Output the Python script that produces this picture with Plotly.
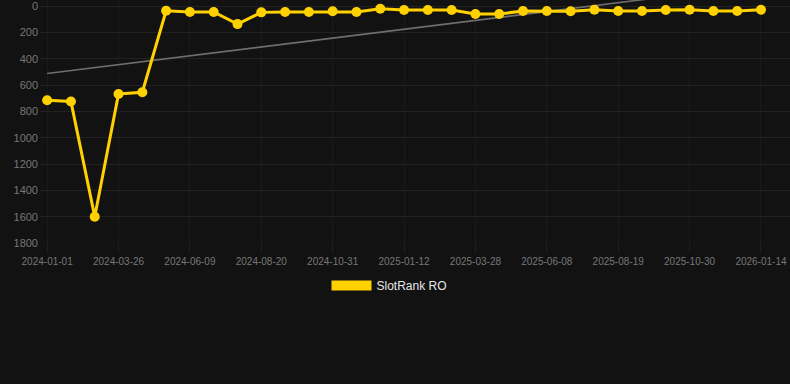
import numpy as np
import plotly.graph_objects as go

dates = ["2024-01-01","2024-01-26","2024-02-26","2024-03-26","2024-04-20","2024-05-15",
         "2024-06-09","2024-07-03","2024-07-27","2024-08-20","2024-09-13","2024-10-07",
         "2024-10-31","2024-11-24","2024-12-19","2025-01-12","2025-02-06","2025-03-03",
         "2025-03-28","2025-04-21","2025-05-15","2025-06-08","2025-07-02","2025-07-26",
         "2025-08-19","2025-09-12","2025-10-06","2025-10-30","2025-11-24","2025-12-19",
         "2026-01-14"]
rank = [715, 725, 1600, 668, 655, 36, 45, 45, 137, 48, 45, 45, 40, 45, 20, 30, 30, 30,
        60, 60, 38, 38, 40, 28, 38, 38, 30, 28, 38, 38, 28]
series_name = "SlotRank RO"
tick_dates = dates[::3]
y_ticks = [0, 200, 400, 600, 800, 1000, 1200, 1400, 1600, 1800]

idx = np.arange(len(rank))
slope, intercept = np.polyfit(idx, rank, 1)
trend = intercept + slope * idx

fig = go.Figure()
fig.add_trace(go.Scatter(x=dates, y=trend, mode="lines",
                         line=dict(color="#6e6e6e", width=1.6),
                         showlegend=False, hoverinfo="skip"))
fig.add_trace(go.Scatter(x=dates, y=rank, mode="lines+markers",
                         line=dict(color="#FFD100", width=3),
                         marker=dict(color="#FFD100", size=10),
                         showlegend=False))
fig.add_trace(go.Scatter(x=[None], y=[None], mode="lines", name=series_name,
                         line=dict(color="#FFD100", width=11)))

fig.update_layout(
    width=790, height=384,
    paper_bgcolor="#121212", plot_bgcolor="#121212",
    margin=dict(l=40, r=0, t=0, b=141),
    font=dict(family="Liberation Sans, Arial, sans-serif", color="#777777"),
    showlegend=True,
    legend=dict(orientation="h", x=0.466, xanchor="center", y=-0.175, yanchor="middle",
                font=dict(size=12, color="#e6e6e6"), itemwidth=40,
                bgcolor="rgba(0,0,0,0)"),
    xaxis=dict(type="category", range=[-0.3, 31.22], tickmode="array", tickvals=tick_dates,
               ticktext=tick_dates, showgrid=True, gridcolor="#1a1a1a", gridwidth=1,
               zeroline=False, showline=False, ticks="outside", ticklen=9,
               tickcolor="#1f1f1f", tickwidth=1,
               tickfont=dict(size=10, color="#777777")),
    yaxis=dict(range=[1800, -46], tickvals=y_ticks, showgrid=True, gridcolor="#212121",
               zeroline=False, showline=False, ticks="", ticklabeloverflow="allow",
               ticklabelstandoff=1,
               tickfont=dict(size=11, color="#777777")),
)
fig.write_html("out.html")
